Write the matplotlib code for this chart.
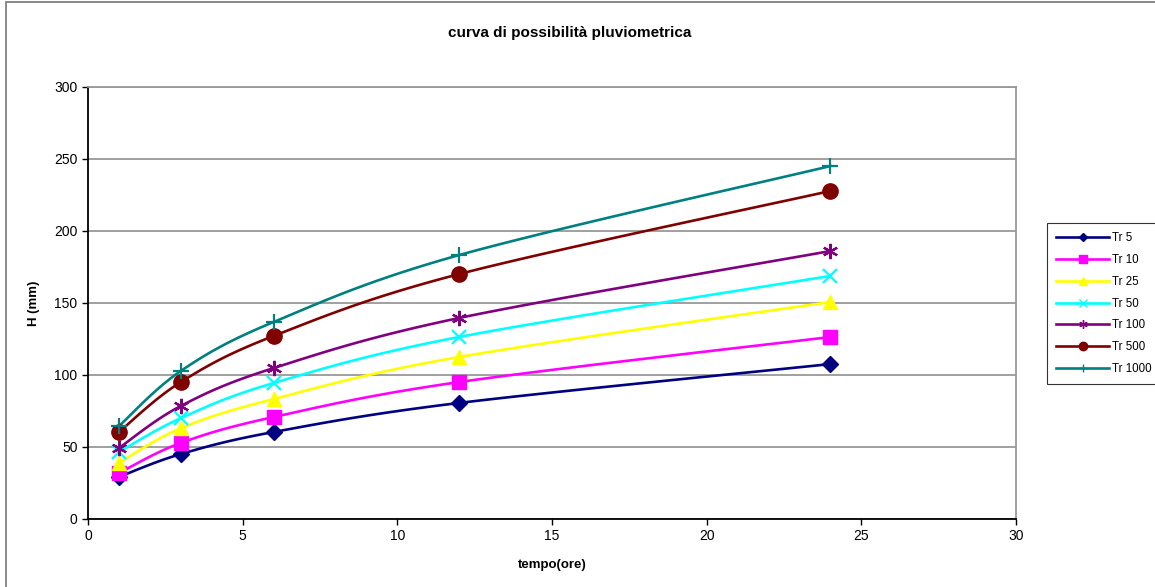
import matplotlib
matplotlib.use("Agg")
import matplotlib.pyplot as plt
from matplotlib.patches import Rectangle
import numpy as np

plt.rcParams['font.family'] = ['Liberation Sans', 'DejaVu Sans']

# durate (ore) e altezze di pioggia (mm) per ciascun tempo di ritorno
durate = [1, 3, 6, 12, 24]
h_tr5 = [29.2, 45.1, 60.4, 80.6, 107.6]
h_tr10 = [31.9, 52.8, 70.8, 95.1, 126.4]
h_tr25 = [38.9, 63.0, 83.3, 112.5, 150.7]
h_tr50 = [46.5, 70.0, 94.4, 126.4, 168.8]
h_tr100 = [49.3, 78.5, 104.8, 139.6, 186.1]
h_tr500 = [60.4, 95.1, 127.1, 170.1, 227.8]
h_tr1000 = [64.5, 102.8, 136.8, 183.3, 245.1]
etichette = ["Tr 5", "Tr 10", "Tr 25", "Tr 50", "Tr 100", "Tr 500", "Tr 1000"]

serie = [h_tr5, h_tr10, h_tr25, h_tr50, h_tr100, h_tr500, h_tr1000]
colori = ["#000080", "#FF00FF", "#FFFF00", "#00FFFF", "#800080", "#800000", "#008080"]
marker = ["D", "s", "^", "x", (6, 2, 0), "o", "+"]
msize = [8, 10, 10, 10, 11, 11, 11]


def smooth(x, y, n=30):
    # curva liscia tipo Excel (bezier con punti di controllo alla Catmull-Rom)
    x = np.asarray(x, float)
    y = np.asarray(y, float)
    px = np.concatenate([[x[0]], x, [x[-1]]])
    py = np.concatenate([[y[0]], y, [y[-1]]])
    xs, ys = [], []
    t = np.linspace(0, 1, n)
    for i in range(1, len(px) - 2):
        p0 = np.array([px[i], py[i]])
        p3 = np.array([px[i + 1], py[i + 1]])
        c1 = p0 + (p3 - np.array([px[i - 1], py[i - 1]])) / 6
        c2 = p3 - (np.array([px[i + 2], py[i + 2]]) - p0) / 6
        b = ((1 - t) ** 3)[:, None] * p0 + (3 * (1 - t) ** 2 * t)[:, None] * c1 \
            + (3 * (1 - t) * t ** 2)[:, None] * c2 + (t ** 3)[:, None] * p3
        xs.extend(b[:, 0])
        ys.extend(b[:, 1])
    return xs, ys


fig = plt.figure(figsize=(11.55, 5.87), dpi=100)
ax = fig.add_axes([88 / 1155, 1 - 519 / 587, 928 / 1155, 432 / 587])

for y, c, m, ms, lab in zip(serie, colori, marker, msize, etichette):
    sx, sy = smooth(durate, y)
    ax.plot(sx, sy, color=c, lw=1.9, zorder=3)
    mew = 1.6 if m in ("x", "+", (6, 2, 0)) else 1
    ax.plot(durate, y, linestyle="none", marker=m, color=c, markersize=ms,
            markeredgewidth=mew, zorder=4)
    ax.plot([], [], color=c, lw=1.9, marker=m, markersize=ms * 0.55,
            markeredgewidth=1, label=lab)

ax.set_xlim(0, 30)
ax.set_ylim(0, 300)
ax.set_xticks(range(0, 31, 5))
ax.set_yticks(range(0, 301, 50))
ax.yaxis.grid(True, color="#999999", lw=1.3)
ax.set_axisbelow(True)
ax.tick_params(direction="out", length=4, labelsize=10, colors="black", width=1)
for s in ["top", "right"]:
    ax.spines[s].set_color("#999999")
    ax.spines[s].set_linewidth(1.3)
for s in ["left", "bottom"]:
    ax.spines[s].set_color("black")
    ax.spines[s].set_linewidth(1.3)

ax.set_xlabel("tempo(ore)", fontsize=9.5, fontweight="bold", labelpad=11)
ax.set_ylabel("H (mm)", fontsize=9.5, fontweight="bold", labelpad=10)
fig.text(570 / 1155, 1 - 33 / 587, "curva di possibilità pluviometrica",
         ha="center", va="center", fontsize=11, fontweight="bold")

leg = fig.legend(loc="upper left", bbox_to_anchor=(1047 / 1155, 1 - 223 / 587),
                 fontsize=8.3, frameon=True, fancybox=False, edgecolor="black",
                 borderpad=0.8, labelspacing=0.85, handlelength=4.6,
                 handletextpad=0.25, borderaxespad=0)
leg.get_frame().set_linewidth(0.8)

# cornice grigia del grafico
fig.patches.append(Rectangle((6 / 1155, -0.1), 1.2, 1 - 2 / 587 + 0.1,
                             transform=fig.transFigure, fill=False,
                             edgecolor="#808080", lw=1.3, zorder=0))

fig.savefig("out.png", dpi=100)
